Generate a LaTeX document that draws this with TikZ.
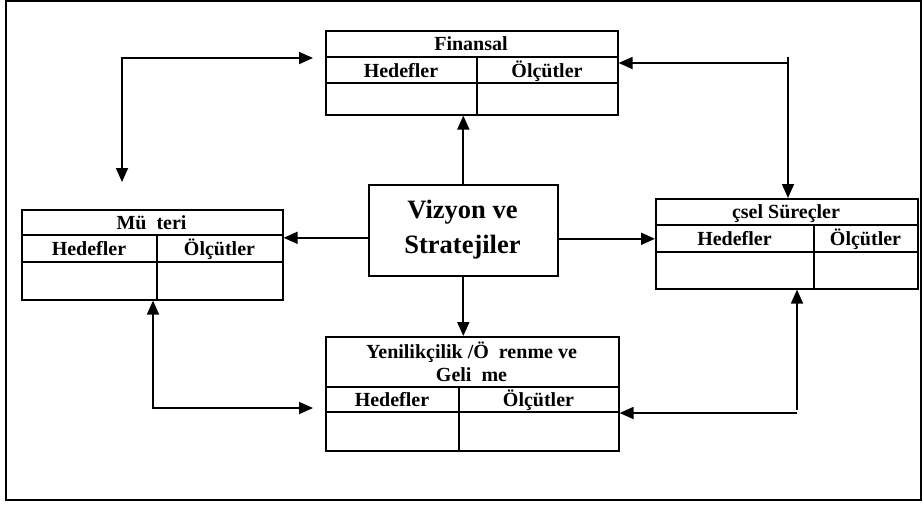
\documentclass[tikz,border=0pt]{standalone}
\usepackage{fontspec}
\setmainfont{Liberation Serif}
\usetikzlibrary{arrows.meta}

\begin{document}
\begin{tikzpicture}[x=1pt,y=-1pt,
  box/.style={draw, line width=1.6pt, rectangle, inner sep=0pt, anchor=north west},
  rule/.style={line width=1.6pt},
  lbl/.style={font=\fontsize{20}{23}\selectfont\bfseries, inner sep=0pt, align=center},
  cell/.style={lbl, anchor=base},
  big/.style={font=\fontsize{26.5}{35}\selectfont\bfseries, inner sep=0pt, align=center},
  arr/.style={line width=1.8pt, -{Triangle[length=14pt,width=12pt]}},
  darr/.style={line width=1.8pt, {Triangle[length=14pt,width=12pt]}-{Triangle[length=14pt,width=12pt]}}]

  \useasboundingbox (0,0) rectangle (923,504);
  % outer frame
  \draw[line width=1.6pt] (6,1) rectangle (921,500);

  % Finansal
  \node[box, minimum width=292pt, minimum height=84pt] (fin) at (325,30) {};
  \draw[rule] (325,57) -- (617,57);
  \draw[rule] (325,83) -- (617,83);
  \draw[rule] (477,57) -- (477,114);
  \node[cell] (finT) at (471,50.5) {Finansal};
  \node[cell] (finH) at (401,77) {Hedefler};
  \node[cell] (finO) at (547,77) {Ölçütler};

  % Müşteri
  \node[box, minimum width=261pt, minimum height=90pt] (mus) at (21,209) {};
  \draw[rule] (21,235) -- (282,235);
  \draw[rule] (21,262) -- (282,262);
  \draw[rule] (157,235) -- (157,299);
  \node[cell] (musT) at (151.5,229) {Mü~~teri};
  \node[cell] (musH) at (89,255.5) {Hedefler};
  \node[cell] (musO) at (219.5,255.5) {Ölçütler};

  % İçsel Süreçler
  \node[box, minimum width=262pt, minimum height=90pt] (ics) at (655,198) {};
  \draw[rule] (655,225) -- (917,225);
  \draw[rule] (655,252) -- (917,252);
  \draw[rule] (814,225) -- (814,288);
  \node[cell] (icsT) at (786,218.5) {çsel Süreçler};
  \node[cell] (icsH) at (734.5,245.5) {Hedefler};
  \node[cell] (icsO) at (865.5,245.5) {Ölçütler};

  % Yenilikçilik / Öğrenme ve Gelişme
  \node[box, minimum width=293pt, minimum height=114pt] (yen) at (325,336) {};
  \draw[rule] (325,387) -- (618,387);
  \draw[rule] (325,412) -- (618,412);
  \draw[rule] (459,387) -- (459,450);
  \node[lbl] (yenT) at (471.5,362) {Yenilikçilik /Ö~~renme ve\\Geli~~me};
  \node[cell] (yenH) at (392,406.5) {Hedefler};
  \node[cell] (yenO) at (538.5,406.5) {Ölçütler};

  % centre box
  \node[box, minimum width=189pt, minimum height=91pt] (viz) at (368,184) {};
  \node[big] (vizT) at (462.5,230) {Vizyon ve\\Stratejiler};

  % arrows from the centre
  \draw[arr] (viz.north) -- (viz.north |- fin.south);
  \draw[arr] (viz.south) -- (viz.south |- yen.north);
  \draw[arr] ([yshift=-7.5pt]viz.west) -- ([yshift=-7.5pt]viz.west -| mus.east);
  \draw[arr] ([yshift=-8.5pt]viz.east) -- ([yshift=-8.5pt]viz.east -| ics.west);

  % corner connectors
  \coordinate (tlA) at (122,182);
  \coordinate (tlC) at (122,58);
  \coordinate (tlB) at (313,58);
  \draw[darr] (tlA) -- (tlC) -- (tlB);

  \coordinate (trT) at (788,57);
  \coordinate (trH) at (788,63);
  \draw[arr] (trT) -- (trT |- ics.north);
  \draw[arr] (trH) -- (trH -| fin.east);

  \coordinate (blC) at (153,408);
  \coordinate (blB) at (313,408);
  \draw[darr] (blC |- mus.south) -- (blC) -- (blB);

  \coordinate (brC) at (797,410);
  \coordinate (brH) at (797,413);
  \draw[arr] (brC) -- (brC |- ics.south);
  \draw[arr] (brH) -- (brH -| yen.east);
\end{tikzpicture}
\end{document}
